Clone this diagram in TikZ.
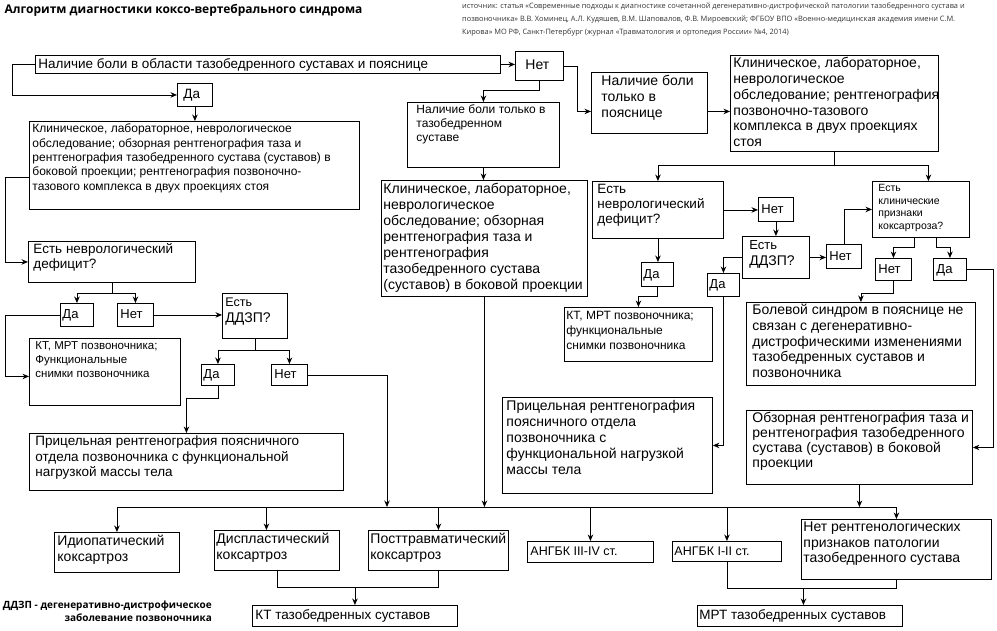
\documentclass[tikz,border=0pt]{standalone}
\usepackage{fontspec}
\setmainfont{Liberation Sans}
\newfontfamily\headfont{Open Sans}
\usetikzlibrary{arrows.meta,positioning,calc}
\newcommand{\fbig}{\fontsize{14}{16}\selectfont}
\newcommand{\fmid}{\fontsize{13.5}{15.5}\selectfont}
\newcommand{\fsml}{\fontsize{12}{14.3}\selectfont}
\newcommand{\ftny}{\fontsize{10.5}{12.6}\selectfont}
% box text: [inner position]{left pad}{width}{height}{lines}
\newcommand{\bt}[5][t]{\parbox[c][#4pt][#1]{#3pt}{\vspace*{1.5pt}\hspace*{#2pt}\begin{tabular}[t]{@{}l@{}}#5\end{tabular}}}
\tikzset{
	every node/.style={font=\fmid}
}
\tikzset{
	box node/.style={draw,line width=0.9pt,anchor=north west,inner sep=0pt},
	link/.style={line width=0.9pt},
	arrow link/.style={link,-{Stealth[length=6.5pt,width=5.5pt]}}
}
\begin{document}
\begin{tikzpicture}[x=1pt,y=-1pt]
      \useasboundingbox (0,0) rectangle (997,630);
      \node[anchor=west,font={\headfont\bfseries\fontsize{12}{14}\selectfont}] (title) at (1,10) {Алгоритм диагностики коксо-вертебрального синдрома};
      \node[anchor=north west,align=left,inner sep=0pt,text=black!80,font={\headfont\fontsize{7.4}{13}\selectfont}] (source) at (462,3) {источник: статья «Современные подходы к диагностике сочетанной дегенеративно-дистрофической патологии тазобедренного сустава и\\позвоночника» В.В. Хоминец, А.Л. Кудяшев, В.М. Шаповалов, Ф.В. Мироевский; ФГБОУ ВПО «Военно-медицинская академия имени С.М.\\Кирова» МО РФ, Санкт-Петербург (журнал «Травматология и ортопедия России» №4, 2014)};
      \node[anchor=north east,align=right,inner sep=0pt,font={\headfont\bfseries\fontsize{10}{13}\selectfont}] (note) at (212,601) {ДДЗП - дегенеративно-дистрофическое\\заболевание позвоночника};
      % left branch
      \node[box node] (top) at (35,55) {\bt[c]{3}{465}{18}{Наличие боли в области тазобедренного суставах и пояснице}};
      \node[box node,font=\fbig] (net1) at (515,51) {\bt[c]{10}{48}{29}{Нет}};
      \node[box node] (da1) at (177,83) {\bt[c]{6}{35}{23}{Да}};
      \node[box node,font=\fsml] (clin1) at (29,121) {\bt{3}{330}{88}{Клиническое, лабораторное, неврологическое\\обследование; обзорная рентгенография таза и\\рентгенография тазобедренного сустава (суставов) в\\боковой проекции; рентгенография позвоночно-\\тазового комплекса в двух проекциях стоя}};
      \node[box node,font={\fontsize{13.5}{15}\selectfont}] (nd1) at (28,241) {\bt{5}{167}{41}{Есть неврологический\\дефицит?}};
      \node[box node,font={\fontsize{13}{15}\selectfont}] (da2) at (60,303) {\bt[c]{2}{33}{23}{Да}};
      \node[box node,font={\fontsize{13}{15}\selectfont}] (net2) at (117,303) {\bt[c]{3}{36}{23}{Нет}};
      \node[box node,font=\fbig] (ddzp1) at (222,293) {\bt{3}{65}{45}{{\fontsize{12.5}{15}\selectfont Есть}\\ДДЗП?}};
      \node[box node,font={\fontsize{11.5}{14}\selectfont}] (kt1) at (29,338) {\bt{6}{151}{67}{КТ, МРТ позвоночника;\\Функциональные\\снимки позвоночника}};
      \node[box node,font={\fontsize{13}{15}\selectfont}] (da3) at (201,364) {\bt[c]{2}{33}{21}{Да}};
      \node[box node,font={\fontsize{13}{15}\selectfont}] (net3) at (271,364) {\bt[c]{3}{36}{21}{Нет}};
      \node[box node] (pric1) at (29,433) {\bt{6}{314}{57}{Прицельная рентгенография поясничного\\отдела позвоночника с функциональной\\нагрузкой массы тела}};
      % middle branch
      \node[box node,font={\fontsize{12}{14}\selectfont}] (hip) at (407,102) {\bt{9}{152}{65}{Наличие боли только в\\тазобедренном\\суставе}};
      \node[box node,font=\fbig] (clin2) at (381,180) {\bt{2}{206}{116}{Клиническое, лабораторное,\\неврологическое\\обследование; обзорная\\рентгенография таза и\\рентгенография\\тазобедренного сустава\\(суставов) в боковой проекции}};
      \node[box node,font=\fbig] (back) at (591,72) {\bt{10}{116}{61}{Наличие боли\\только в\\пояснице}};
      \node[box node,font={\fontsize{14}{15.7}\selectfont}] (clin3) at (730,55) {\bt{3}{208}{96}{Клиническое, лабораторное,\\неврологическое\\обследование; рентгенография\\позвоночно-тазового\\комплекса в двух проекциях\\стоя}};
      \node[box node,font={\fontsize{13.5}{15}\selectfont}] (nd2) at (592,181) {\bt{5}{131}{57}{Есть\\неврологический\\дефицит?}};
      \node[box node,font={\fontsize{13}{15}\selectfont}] (net4) at (758,197) {\bt[c]{3}{35}{24}{Нет}};
      \node[box node,font=\fbig] (ddzp2) at (742,236) {\bt{7}{67}{42}{{\fontsize{13}{15}\selectfont Есть}\\ДДЗП?}};
      \node[box node,font={\fontsize{13}{15}\selectfont}] (net5) at (826,244) {\bt[c]{3}{35}{24}{Нет}};
      \node[box node,font=\ftny] (kp) at (872,181) {\bt{6}{97}{56}{Есть\\клинические\\признаки\\коксартроза?}};
      \node[box node,font={\fontsize{13}{15}\selectfont}] (net6) at (875,258) {\bt[c]{3}{36}{22}{Нет}};
      \node[box node,font={\fontsize{13}{15}\selectfont}] (da4) at (933,258) {\bt[c]{3}{33}{22}{Да}};
      \node[box node,font={\fontsize{13}{15}\selectfont}] (da5) at (641,262) {\bt[c]{2}{32}{24}{Да}};
      \node[box node,font={\fontsize{13}{15}\selectfont}] (da6) at (707,273) {\bt[c]{2}{32}{23}{Да}};
      \node[box node,font={\fontsize{12}{15}\selectfont}] (kt2) at (564,307) {\bt{2}{148}{54}{КТ, МРТ позвоночника;\\функциональные\\снимки позвоночника}};
      \node[box node,font={\fontsize{14}{15.6}\selectfont}] (pain) at (746,302) {\bt{6}{229}{83}{Болевой синдром в пояснице не\\связан с дегенеративно-\\дистрофическими изменениями\\тазобедренных суставов и\\позвоночника}};
      \node[box node,font=\fbig] (pric2) at (502,397) {\bt{4}{210}{96}{Прицельная рентгенография\\поясничного отдела\\позвоночника с\\функциональной нагрузкой\\массы тела}};
      \node[box node,font={\fontsize{14}{15}\selectfont}] (obz) at (746,410) {\bt{6}{226}{74}{Обзорная рентгенография таза и\\рентгенография тазобедренного\\сустава (суставов) в боковой\\проекции}};
      % results
      \node[box node,font=\fbig] (idio) at (54,532) {\bt{3}{125}{40}{Идиопатический\\коксартроз}};
      \node[box node,font=\fbig] (dysp) at (214,530) {\bt{2}{125}{40}{Диспластический\\коксартроз}};
      \node[box node,font=\fbig] (post) at (368,530) {\bt{2}{140}{40}{Посттравматический\\коксартроз}};
      \node[box node,font={\fontsize{12.5}{15}\selectfont}] (ang34) at (527,541) {\bt[c]{3}{126}{21}{АНГБК III-IV ст.}};
      \node[box node,font={\fontsize{12.5}{15}\selectfont}] (ang12) at (672,541) {\bt[c]{2}{109}{20}{АНГБК I-II ст.}};
      \node[box node,font={\fontsize{14}{15.5}\selectfont}] (norad) at (801,519) {\bt{2}{190}{60}{Нет рентгенологических\\признаков патологии\\тазобедренного сустава}};
      \node[box node] (kthip) at (252,605) {\bt[c]{3}{205}{21}{КТ тазобедренных суставов}};
      \node[box node] (mrt) at (697,605) {\bt[c]{2}{205}{21}{МРТ тазобедренных суставов}};
      % connectors, left
      \draw[arrow link] (top.west) -- ++(-23,0) |- (da1.west);
      \draw[arrow link] (top.east) -- (top.east -| net1.west);
      \draw[arrow link] (da1.south) -- (da1.south |- clin1.north);
      \draw[arrow link] ([yshift=-12pt]clin1.west) -- ++(-24,0) |- (nd1.west);
      \draw[link] (nd1.south) -- ++(0,11) coordinate (ndfork);
      \draw[arrow link] (ndfork) -| (da2.north);
      \draw[arrow link] (ndfork) -| (net2.north);
      \draw[arrow link] (da2.west) -- ++(-55,0) |- ([yshift=-4.5pt]kt1.west);
      \draw[arrow link] (net2.east) -- (net2.east -| ddzp1.west);
      \draw[link] (ddzp1.south) -- ++(0,12) coordinate (ddfork);
      \draw[arrow link] (ddfork) -| (da3.north);
      \draw[arrow link] (ddfork) -| (net3.north);
      \draw[arrow link] (da3.south) -- ++(0,13) -| (pric1.north);
      % connectors, middle and right
      \draw[arrow link] (net1.south) -- ++(0,10) -| (hip.north);
      \draw[arrow link] (net1.east) -- ++(14,0) |- ([yshift=-8.5pt]back.west);
      \draw[arrow link] ([yshift=-8.5pt]back.east) -- ([yshift=-8.5pt]back.east -| clin3.west);
      \draw[arrow link] (hip.south) -- (hip.south |- clin2.north);
      \draw[link] (clin3.south) -- ++(0,14) coordinate (c3fork);
      \draw[arrow link] (c3fork) -| (nd2.north);
      \draw[arrow link] (c3fork) -| ([xshift=7.5pt]kp.north);
      \draw[arrow link] (nd2.east) -- (nd2.east -| net4.west);
      \draw[arrow link] (net4.south) -- (net4.south |- ddzp2.north);
      \draw[arrow link] (ddzp2.east) -- (ddzp2.east -| net5.west);
      \draw[arrow link] (net5.north) |- (kp.west);
      \draw[arrow link] ([xshift=-6.5pt]kp.south) -- ++(0,10) -| (net6.north);
      \draw[arrow link] ([xshift=15.5pt]kp.south) -- ++(0,10) -| (da4.north);
      \draw[arrow link] (net6.south) -- ++(0,13) -| (pain.north);
      \draw[arrow link] (da4.east) -- ++(27,0) |- (obz.east);
      \draw[arrow link] (ddzp2.west) -| (da6.north);
      \draw[arrow link] (da6.south) |- (pric2.east);
      \draw[arrow link] (nd2.south) -- (nd2.south |- da5.north);
      \draw[arrow link] (da5.south) -- ++(0,10) -| (kt2.north);
      % bus to the results
      \coordinate (bus) at (0,507);
      \coordinate (netin) at (387,507);
      \coordinate (dyspin) at ([xshift=-10.5pt]dysp.north);
      \coordinate (mrtin) at ([xshift=3.5pt]mrt.north);
      \draw[arrow link] (net3.east) -| (netin);
      \draw[arrow link] (clin2.south) -- (clin2.south |- bus);
      \draw[arrow link] (obz.south) -- (obz.south |- bus);
      \draw[link] (idio.north |- bus) -- (norad.north |- bus);
      \draw[arrow link] (idio.north |- bus) -- (idio.north);
      \draw[arrow link] (dyspin |- bus) -- (dyspin);
      \draw[arrow link] (post.north |- bus) -- (post.north);
      \draw[arrow link] (ang34.north |- bus) -- (ang34.north);
      \draw[arrow link] (ang12.north |- bus) -- (ang12.north);
      \draw[arrow link] (norad.north |- bus) -- (norad.north);
      \draw[link] (dysp.south) -- ++(0,17) coordinate (dj) -| (post.south);
      \draw[arrow link] (kthip.north |- dj) -- (kthip.north);
      \draw[link] (ang12.south) -- ++(0,27) coordinate (aj) -| (norad.south);
      \draw[arrow link] (mrtin |- aj) -- (mrtin);
\end{tikzpicture}
\end{document}
